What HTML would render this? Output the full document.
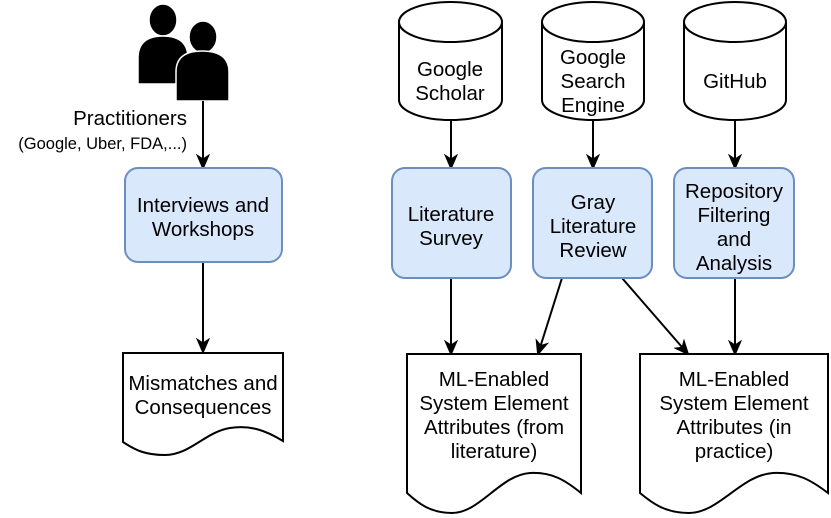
<!DOCTYPE html>
<html><head><style>body{margin:0;background:#fff}svg{display:block}text{font-family:"Liberation Sans",Arial,sans-serif;font-size:20.5px;fill:#000;text-anchor:middle}</style></head><body>
<svg width="831" height="518" viewBox="0 0 831 518" xmlns="http://www.w3.org/2000/svg">
<defs><marker id="a" markerWidth="16" markerHeight="16" refX="14" refY="8" orient="auto" markerUnits="userSpaceOnUse"><path d="M1,2 L15,8 L1,14 L5,8 Z" fill="#000" stroke="#000" stroke-width="1"/></marker></defs>
<g fill="#000" stroke="#fff" stroke-width="1.5">
<ellipse cx="163" cy="20" rx="14" ry="16"/><path d="M138,84 L138,58 Q138,36 163,36 Q188,36 188,58 L188,84 Z"/>
<ellipse cx="203" cy="37" rx="14" ry="16"/><path d="M176,101 L176,72 Q176,51 202,51 Q229,51 229,72 L229,101 Z"/>
</g>
<text x="187" y="125" style="text-anchor:end">Practitioners</text>
<text x="187" y="149" style="text-anchor:end;font-size:16.5px">(Google, Uber, FDA,...)</text>
<g stroke="#000" stroke-width="2" fill="none">
<line x1="203" y1="101" x2="203" y2="168" marker-end="url(#a)"/>
<line x1="203" y1="262" x2="203" y2="352" marker-end="url(#a)"/>
<line x1="451" y1="120" x2="451" y2="168" marker-end="url(#a)"/>
<line x1="593" y1="120" x2="593" y2="168" marker-end="url(#a)"/>
<line x1="735" y1="120" x2="735" y2="168" marker-end="url(#a)"/>
<line x1="451" y1="278" x2="451" y2="354" marker-end="url(#a)"/>
<line x1="562" y1="278" x2="538" y2="354" marker-end="url(#a)"/>
<line x1="622" y1="278" x2="688" y2="354" marker-end="url(#a)"/>
<line x1="735" y1="278" x2="735" y2="354" marker-end="url(#a)"/>
</g>
<g fill="#dae8fc" stroke="#6c8ebf" stroke-width="2">
<rect x="125" y="168" width="157" height="94" rx="13"/>
<rect x="392" y="168" width="119" height="110" rx="13"/>
<rect x="533" y="168" width="119" height="110" rx="13"/>
<rect x="674" y="168" width="120" height="110" rx="13"/>
</g>
<g fill="#fff" stroke="#000" stroke-width="2">
<path d="M399,22 A51.5,20 0 0 1 502,22 L502,100 A51.5,20 0 0 1 399,100 Z"/><path d="M399,22 A51.5,20 0 0 0 502,22" fill="none"/>
<path d="M542,22 A51,20 0 0 1 644,22 L644,100 A51,20 0 0 1 542,100 Z"/><path d="M542,22 A51,20 0 0 0 644,22" fill="none"/>
<path d="M684,22 A51,20 0 0 1 786,22 L786,100 A51,20 0 0 1 684,100 Z"/><path d="M684,22 A51,20 0 0 0 786,22" fill="none"/>
<path d="M123,353 L283,353 L283,441 C265,430 250,425 230,428 C205,432 190,455 165,455 C145,455 135,450 123,442 Z"/>
<path d="M407,354 L581,354 L581,493 C565,480 552,472 530,473 C500,475 480,513 452,513 C430,513 418,503 407,493 Z"/>
<path d="M640,354 L828,354 L828,493 C811,480 797,472 773,473 C741,475 719,513 689,513 C665,513 652,503 640,493 Z"/>
</g>
<text x="450" y="76">Google</text><text x="450" y="100">Scholar</text>
<text x="593" y="64">Google</text><text x="593" y="88">Search</text><text x="593" y="112">Engine</text>
<text x="735" y="88">GitHub</text>
<text x="203" y="212">Interviews and</text><text x="203" y="236">Workshops</text>
<text x="451" y="221">Literature</text><text x="451" y="245">Survey</text>
<text x="593" y="209">Gray</text><text x="593" y="233">Literature</text><text x="593" y="257">Review</text>
<text x="734" y="198">Repository</text><text x="734" y="222">Filtering</text><text x="734" y="246">and</text><text x="734" y="270">Analysis</text>
<text x="203" y="390">Mismatches and</text><text x="203" y="414">Consequences</text>
<text x="494" y="386">ML-Enabled</text><text x="494" y="410">System Element</text><text x="494" y="434">Attributes (from</text><text x="494" y="458">literature)</text>
<text x="734" y="386">ML-Enabled</text><text x="734" y="410">System Element</text><text x="734" y="434">Attributes (in</text><text x="734" y="458">practice)</text>
</svg>
</body></html>
